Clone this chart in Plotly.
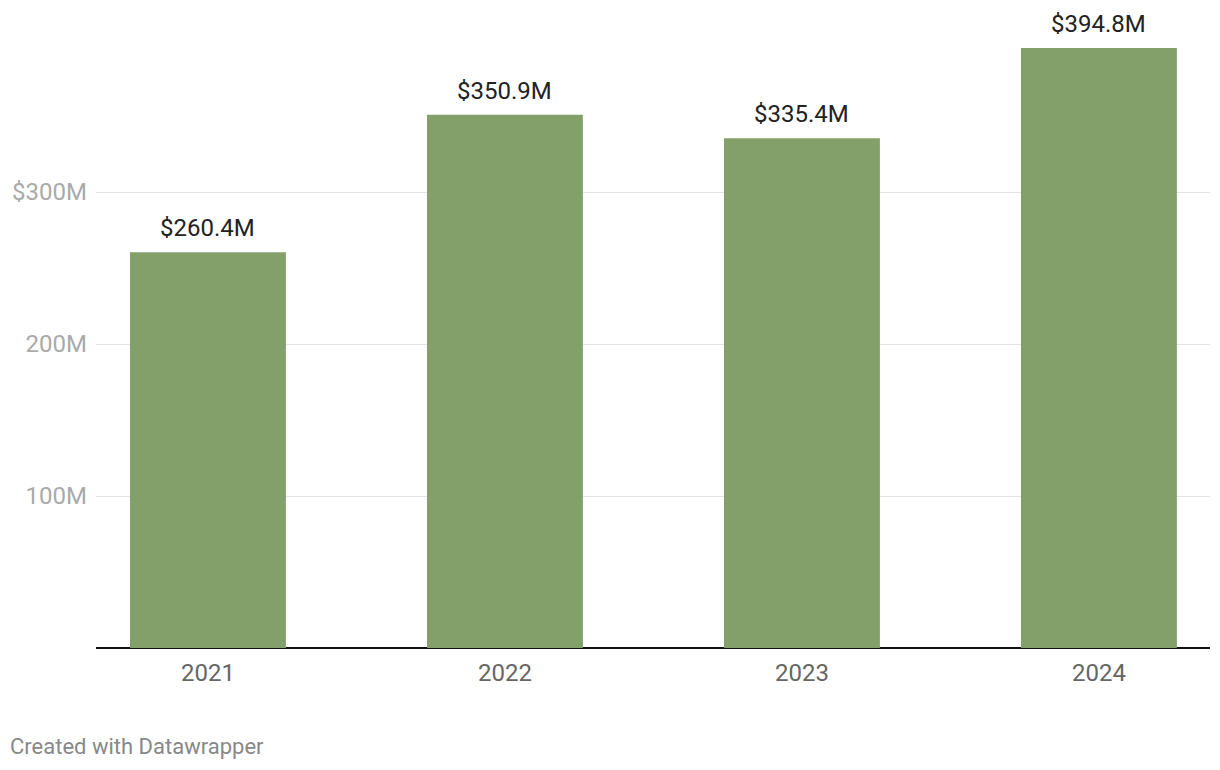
import plotly.graph_objects as go

years = ["2021", "2022", "2023", "2024"]
values = [260.4, 350.9, 335.4, 394.8]
labels = ["$260.4M", "$350.9M", "$335.4M", "$394.8M"]
ytick_vals = [100, 200, 300]
ytick_text = ["100M", "200M", "$300M"]

FONT = "Roboto"

fig = go.Figure()
fig.add_trace(go.Bar(
    x=years, y=values, width=0.525,
    marker=dict(color="#84a06a", line=dict(width=0)),
    hoverinfo="skip",
))

for i, (v, t) in enumerate(zip(values, labels)):
    fig.add_annotation(x=i, y=v, text=t, showarrow=False, xref="x", yref="y",
                       yanchor="bottom", yshift=8,
                       font=dict(family=FONT, size=24, color="#222222"))

fig.add_annotation(text="Created with Datawrapper", xref="paper", yref="paper",
                   x=(8 - 96) / 1114, y=(648 - 746) / 628, xanchor="left", yanchor="middle",
                   showarrow=False, font=dict(family=FONT, size=22, color="#888888"))

fig.update_layout(
    width=1220, height=770,
    margin=dict(l=88, r=18, t=12, b=130),
    paper_bgcolor="white", plot_bgcolor="white",
    showlegend=False,
    font=dict(family=FONT),
    xaxis=dict(type="category", range=[-0.377, 3.374], showgrid=False,
               showline=False, ticks="", ticklabelstandoff=8, automargin=False,
               tickfont=dict(family=FONT, size=24, color="#666666")),
    yaxis=dict(range=[0, 628 / 1.52], tickvals=ytick_vals, ticktext=ytick_text,
               showgrid=True, gridcolor="#e4e4e4", gridwidth=1,
               zeroline=True, zerolinecolor="#111111", zerolinewidth=2,
               showline=False, ticks="", ticklabelstandoff=8, automargin=False,
               tickfont=dict(family=FONT, size=24, color="#aaaaaa")),
)

fig.write_html("out.html")
